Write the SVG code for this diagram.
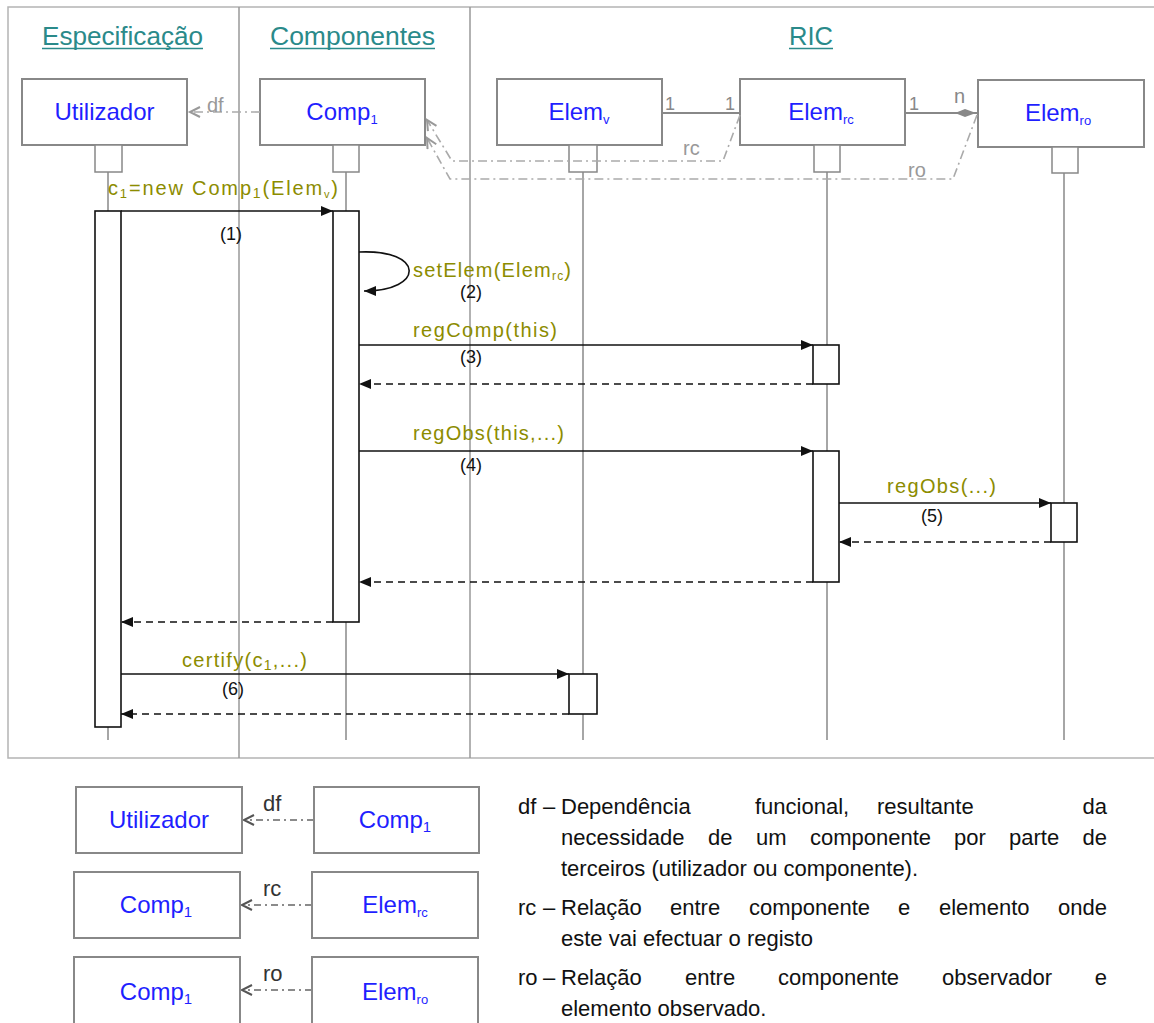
<svg xmlns="http://www.w3.org/2000/svg" width="1154" height="1023" viewBox="0 0 1154 1023">
<style>
text{font-family:"Liberation Sans",Arial,sans-serif}
.box{fill:#fff;stroke:#888;stroke-width:2}
.head{fill:#fff;stroke:#888;stroke-width:1.5}
.lbl{fill:#1f1fff;font-size:24px}
.sub{font-size:13px}
.life{stroke:#888;stroke-width:1.5;fill:none}
.act{fill:#fff;stroke:#111;stroke-width:1.6}
.msg{stroke:#111;stroke-width:1.6;fill:none;marker-end:url(#fa)}
.ret{stroke:#111;stroke-width:1.6;fill:none;stroke-dasharray:7 5;marker-end:url(#fa)}
.dd{stroke:#aaa;stroke-width:1.6;fill:none;stroke-dasharray:9 4 2 4;marker-end:url(#oa)}
.ddl{stroke:#666;stroke-width:1.4;fill:none;stroke-dasharray:7 4 2 4;marker-end:url(#ob)}
.ol{fill:#8c8c00;font-size:20px}
.num{fill:#111;font-size:18px}
.hd{fill:#2a8a8a;font-size:26px}
.ul{stroke:#2a8a8a;stroke-width:1.5}
.gr{fill:#999;font-size:20px}
.leg{fill:#111;font-size:22px}
</style>
<defs>
<marker id="fa" markerUnits="userSpaceOnUse" markerWidth="13" markerHeight="11" refX="12" refY="5" orient="auto"><path d="M0,0 L12,5 L0,10 z" fill="#111"/></marker>
<marker id="oa" markerUnits="userSpaceOnUse" markerWidth="14" markerHeight="14" refX="11" refY="6" orient="auto"><path d="M1,1 L11,6 L1,11" fill="none" stroke="#999" stroke-width="2"/></marker>
<marker id="ob" markerUnits="userSpaceOnUse" markerWidth="14" markerHeight="14" refX="11" refY="6" orient="auto"><path d="M1,1 L11,6 L1,11" fill="none" stroke="#555" stroke-width="2"/></marker>
</defs>
<rect x="0" y="0" width="1154" height="1023" fill="#fff"/>

<g id="frame">
<path d="M1154,7 L8,7 L8,758 L1154,758" fill="none" stroke="#b4b4b4" stroke-width="1.5"/>
<line x1="239" y1="7" x2="239" y2="758" stroke="#999" stroke-width="1.5"/>
<line x1="470" y1="7" x2="470" y2="758" stroke="#999" stroke-width="1.5"/>
<text class="hd" x="42" y="45" textLength="161" lengthAdjust="spacingAndGlyphs">Especificação</text>
<line class="ul" x1="42" y1="48.5" x2="203" y2="48.5"/>
<text class="hd" x="270" y="45" textLength="165" lengthAdjust="spacingAndGlyphs">Componentes</text>
<line class="ul" x1="270" y1="48.5" x2="435" y2="48.5"/>
<text class="hd" x="789" y="45" textLength="44" lengthAdjust="spacingAndGlyphs">RIC</text>
<line class="ul" x1="789" y1="48.5" x2="833" y2="48.5"/>
</g>

<g id="lifelines">
<line class="life" x1="108" y1="172" x2="108" y2="740"/>
<line class="life" x1="346" y1="172" x2="346" y2="740"/>
<line class="life" x1="583" y1="172" x2="583" y2="740"/>
<line class="life" x1="827" y1="172" x2="827" y2="740"/>
<line class="life" x1="1064" y1="173" x2="1064" y2="740"/>
</g>

<g id="node-utilizador">
<rect class="box" x="22" y="79" width="165" height="66"/>
<rect class="head" x="95" y="145" width="27" height="27"/>
<text class="lbl" x="104.5" y="120" text-anchor="middle">Utilizador</text>
</g>
<g id="node-comp1">
<rect class="box" x="260" y="79" width="165" height="66"/>
<rect class="head" x="333" y="145" width="26" height="27"/>
<text class="lbl" x="342" y="120" text-anchor="middle">Comp<tspan class="sub" font-size="15" dy="4">1</tspan></text>
</g>
<g id="node-elemv">
<rect class="box" x="497" y="79" width="165" height="66"/>
<rect class="head" x="569" y="145" width="28" height="27"/>
<text class="lbl" x="579" y="120" text-anchor="middle">Elem<tspan class="sub" dy="4">v</tspan></text>
</g>
<g id="node-elemrc">
<rect class="box" x="740" y="79" width="165" height="66"/>
<rect class="head" x="814" y="145" width="26" height="27"/>
<text class="lbl" x="821" y="120" text-anchor="middle">Elem<tspan class="sub" dy="4">rc</tspan></text>
</g>
<g id="node-elemro">
<rect class="box" x="978" y="80" width="166" height="67"/>
<rect class="head" x="1052" y="147" width="26" height="26"/>
<text class="lbl" x="1058" y="121" text-anchor="middle">Elem<tspan class="sub" dy="4">ro</tspan></text>
</g>

<g id="activations">
<rect class="act" x="95" y="211" width="26" height="516"/>
<rect class="act" x="333" y="211" width="26" height="411"/>
<rect class="act" x="813" y="345" width="26" height="39"/>
<rect class="act" x="813" y="451" width="26" height="131"/>
<rect class="act" x="1051" y="503" width="26" height="39"/>
<rect class="act" x="569" y="674" width="28" height="40"/>
</g>

<g id="connectors">
<line class="dd" x1="260" y1="112" x2="190" y2="112"/>
<text class="gr" x="207" y="112" font-size="21">df</text>
<path class="dd" d="M740,115 L723,161 L452,161 L427,120"/>
<text class="gr" x="683" y="155">rc</text>
<path class="dd" d="M977,115 L953,179 L450,179 L427,138"/>
<text class="gr" x="908" y="177">ro</text>
<line x1="662" y1="113" x2="740" y2="113" stroke="#888" stroke-width="2"/>
<text x="665" y="110" fill="#888" font-size="18">1</text>
<text x="725" y="110" fill="#888" font-size="18">1</text>
<line x1="905" y1="113" x2="978" y2="113" stroke="#888" stroke-width="2"/>
<path d="M955,113 L965,109 L976,113 L965,117 z" fill="#888"/>
<text x="909" y="110" fill="#888" font-size="18">1</text>
<text x="954" y="103" fill="#888" font-size="20">n</text>

<line class="msg" x1="121" y1="211" x2="333" y2="211"/>
<text class="ol" x="108" y="195" textLength="230" lengthAdjust="spacing">c<tspan class="sub" font-size="14" dy="3">1</tspan><tspan dy="-3">=new Comp</tspan><tspan font-size="14" dy="3">1</tspan><tspan dy="-3">(Elem</tspan><tspan font-size="11" dy="3">v</tspan><tspan dy="-3">)</tspan></text>
<text class="num" x="220" y="240">(1)</text>

<path d="M359,252 C425,249 425,291 364,291" fill="none" stroke="#111" stroke-width="1.6" marker-end="url(#fa)"/>
<text class="ol" x="413" y="277" textLength="158" lengthAdjust="spacing">setElem(Elem<tspan font-size="12" dy="3">rc</tspan><tspan dy="-3">)</tspan></text>
<text class="num" x="460" y="298">(2)</text>

<line class="msg" x1="359" y1="345" x2="813" y2="345"/>
<text class="ol" x="413" y="337" textLength="144" lengthAdjust="spacing">regComp(this)</text>
<text class="num" x="460" y="363">(3)</text>
<line class="ret" x1="813" y1="384" x2="359" y2="384"/>

<line class="msg" x1="359" y1="451" x2="813" y2="451"/>
<text class="ol" x="413" y="440" textLength="151" lengthAdjust="spacing">regObs(this,...)</text>
<text class="num" x="460" y="471">(4)</text>

<line class="msg" x1="839" y1="503" x2="1051" y2="503"/>
<text class="ol" x="887" y="493" textLength="109" lengthAdjust="spacing">regObs(...)</text>
<text class="num" x="921" y="522">(5)</text>
<line class="ret" x1="1051" y1="542" x2="839" y2="542"/>

<line class="ret" x1="813" y1="582" x2="359" y2="582"/>
<line class="ret" x1="333" y1="622" x2="121" y2="622"/>

<line class="msg" x1="121" y1="674" x2="569" y2="674"/>
<text class="ol" x="182" y="667" textLength="125" lengthAdjust="spacing">certify(c<tspan font-size="14" dy="3">1</tspan><tspan dy="-3">,...)</tspan></text>
<text class="num" x="222" y="695">(6)</text>
<line class="ret" x1="569" y1="714" x2="121" y2="714"/>

<line class="ddl" x1="314" y1="820" x2="244" y2="820"/>
<text x="263" y="811" fill="#333" font-size="22">df</text>
<line class="ddl" x1="312" y1="905" x2="242" y2="905"/>
<text x="263" y="896" fill="#333" font-size="22">rc</text>
<line class="ddl" x1="312" y1="990" x2="242" y2="990"/>
<text x="263" y="981" fill="#333" font-size="22">ro</text>
</g>

<g id="legend-utilizador">
<rect class="box" x="76" y="787" width="166" height="66"/>
<text class="lbl" x="159" y="828" text-anchor="middle">Utilizador</text>
</g>
<g id="legend-comp1-a">
<rect class="box" x="314" y="787" width="165" height="66"/>
<text class="lbl" x="395" y="828" text-anchor="middle">Comp<tspan font-size="15" dy="4">1</tspan></text>
</g>
<g id="legend-comp1-b">
<rect class="box" x="74" y="872" width="166" height="66"/>
<text class="lbl" x="156" y="913" text-anchor="middle">Comp<tspan font-size="15" dy="4">1</tspan></text>
</g>
<g id="legend-elemrc">
<rect class="box" x="312" y="872" width="166" height="66"/>
<text class="lbl" x="395" y="913" text-anchor="middle">Elem<tspan class="sub" dy="4">rc</tspan></text>
</g>
<g id="legend-comp1-c">
<rect class="box" x="74" y="957" width="166" height="70"/>
<text class="lbl" x="156" y="1000" text-anchor="middle">Comp<tspan font-size="15" dy="4">1</tspan></text>
</g>
<g id="legend-elemro">
<rect class="box" x="312" y="957" width="166" height="70"/>
<text class="lbl" x="395" y="1000" text-anchor="middle">Elem<tspan class="sub" dy="4">ro</tspan></text>
</g>

<g id="legend-text" class="leg">
<text class="leg" x="518" y="814">df</text>
<text class="leg" x="543" y="814">–</text>
<text class="leg" y="814"><tspan x="561">Dependência</tspan><tspan x="755">funcional,</tspan><tspan x="877">resultante</tspan></text>
<text class="leg" x="1107" y="814" text-anchor="end">da</text>
<text class="leg" y="845"><tspan x="561">necessidade</tspan><tspan x="708">de</tspan><tspan x="756">um</tspan><tspan x="810">componente</tspan><tspan x="954">por</tspan><tspan x="1009">parte</tspan></text>
<text class="leg" x="1107" y="845" text-anchor="end">de</text>
<text class="leg" x="561" y="876">terceiros (utilizador ou componente).</text>
<text class="leg" x="518" y="915">rc</text>
<text class="leg" x="543" y="915">–</text>
<text class="leg" y="915"><tspan x="561">Relação</tspan><tspan x="670">entre</tspan><tspan x="749">componente</tspan><tspan x="898">e</tspan><tspan x="939">elemento</tspan></text>
<text class="leg" x="1107" y="915" text-anchor="end">onde</text>
<text class="leg" x="561" y="946">este vai efectuar o registo</text>
<text class="leg" x="518" y="985">ro</text>
<text class="leg" x="543" y="985">–</text>
<text class="leg" y="985"><tspan x="561">Relação</tspan><tspan x="685">entre</tspan><tspan x="778">componente</tspan><tspan x="942">observador</tspan></text>
<text class="leg" x="1107" y="985" text-anchor="end">e</text>
<text class="leg" x="561" y="1016">elemento observado.</text>
</g>
</svg>
